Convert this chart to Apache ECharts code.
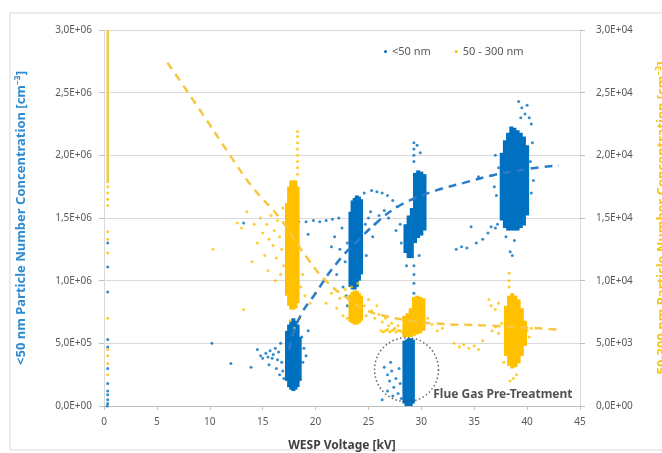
<!DOCTYPE html>
<html><head><meta charset="utf-8">
<script src="https://cdn.jsdelivr.net/npm/echarts@6/dist/echarts.min.js"></script>
<style>html,body{margin:0;padding:0;background:#fff}#c{width:662px;height:453px}</style>
</head><body><div id="c"></div>
<script>
const blueName = '<50 nm';
const yellowName = '50 - 300 nm';
const xTitle = 'WESP Voltage [kV]';
const leftTitle = '<50 nm Particle Number Concentration [cm\u207B\u00B3]';
const rightTitle = '50-300 nm Particle Number Concentration [cm\u207B\u00B3]';
const annotationText = 'Flue Gas Pre-Treatment';
const annotationPoint = [[28.6, 0.29e6]];

// dense data bands: [voltage, low, high]
const blueStrips = [
  [17.3,0.20e6,0.60e6],[17.5,0.15e6,0.65e6],[17.7,0.13e6,0.68e6],[17.9,0.12e6,0.70e6],[18.1,0.13e6,0.68e6],[18.3,0.15e6,0.65e6],[18.5,0.20e6,0.55e6],
  [23.3,0.95e6,1.55e6],[23.5,0.93e6,1.64e6],[23.7,0.93e6,1.66e6],[23.9,0.95e6,1.68e6],[24.1,1.00e6,1.67e6],[24.3,1.05e6,1.65e6],
  [28.5,1.22e6,1.45e6],[28.8,1.18e6,1.52e6],[29.1,1.18e6,1.58e6],[29.4,1.30e6,1.86e6],[29.7,1.34e6,1.88e6],[30.0,1.36e6,1.87e6],[30.3,1.40e6,1.85e6],
  [28.4,0.02e6,0.52e6],[28.6,0.00e6,0.53e6],[28.8,0.00e6,0.54e6],[29.0,0.00e6,0.54e6],[29.2,0.02e6,0.53e6],
  [37.6,1.48e6,2.02e6],[37.9,1.42e6,2.12e6],[38.2,1.40e6,2.18e6],[38.5,1.40e6,2.23e6],[38.8,1.40e6,2.22e6],[39.1,1.40e6,2.20e6],[39.4,1.42e6,2.18e6],[39.7,1.44e6,2.15e6],[40.0,1.52e6,2.08e6]
];
const yellowStrips = [
  [17.3,0.88e4,1.62e4],[17.5,0.80e4,1.75e4],[17.7,0.77e4,1.80e4],[17.9,0.77e4,1.80e4],[18.1,0.78e4,1.80e4],[18.3,0.82e4,1.75e4],
  [23.3,0.67e4,0.89e4],[23.5,0.66e4,0.91e4],[23.7,0.65e4,0.92e4],[23.9,0.65e4,0.92e4],[24.1,0.66e4,0.90e4],[24.3,0.68e4,0.88e4],
  [28.4,0.55e4,0.72e4],[28.7,0.55e4,0.74e4],[29.0,0.55e4,0.78e4],[29.3,0.56e4,0.87e4],[29.6,0.57e4,0.88e4],[29.9,0.58e4,0.87e4],[30.2,0.60e4,0.86e4],
  [38.0,0.40e4,0.80e4],[38.3,0.32e4,0.88e4],[38.6,0.30e4,0.90e4],[38.9,0.31e4,0.88e4],[39.2,0.34e4,0.85e4],[39.5,0.40e4,0.78e4],[39.8,0.48e4,0.68e4]
];
// the near-vertical run at 0 kV
const yellowZeroStrip = [[0.35,1.78e4,3.0e4]];

// individual scattered points: [voltage, concentration]
const blueDots = [
  [0.35,1.30e6],[0.35,1.11e6],[0.35,0.91e6],[0.35,0.53e6],[0.35,0.47e6],[0.35,0.30e6],[0.35,0.18e6],[0.35,0.12e6],[0.35,0.09e6],[0.35,0.05e6],[0.35,0.02e6],[0.3,0.0],
  [10.2,0.50e6],[12.0,0.34e6],[13.9,0.31e6],[14.5,0.45e6],[14.8,0.40e6],[15.0,0.38e6],[15.3,0.42e6],[15.5,0.39e6],[15.7,0.44e6],[15.9,0.38e6],[16.0,0.41e6],[16.2,0.46e6],
  [16.4,0.37e6],[16.5,0.43e6],[16.7,0.50e6],[16.8,0.35e6],[16.9,0.28e6],[17.0,0.22e6],[16.6,0.25e6],[16.3,0.30e6],[15.6,0.33e6],[18.7,0.55e6],[18.8,0.35e6],[18.9,0.46e6],
  [19.1,0.40e6],[19.3,0.60e6],[19.3,1.37e6],[19.1,1.47e6],[18.4,1.47e6],[13.2,1.46e6],
  [19.8,1.48e6],[20.4,1.47e6],[21.0,1.48e6],[21.6,1.49e6],[22.2,1.50e6],[21.5,1.27e6],
  [21.8,1.35e6],[22.0,1.05e6],[22.3,1.25e6],[22.5,1.42e6],[22.6,0.95e6],[22.8,1.15e6],[23.0,1.30e6],[22.9,0.88e6],[23.0,0.80e6],
  [24.7,1.45e6],[24.8,1.20e6],[25.0,1.50e6],[25.2,1.55e6],[24.6,1.70e6],[25.3,1.72e6],[25.8,1.71e6],[26.3,1.70e6],[26.8,1.68e6],[27.3,1.64e6],[27.7,1.59e6],
  [25.6,1.45e6],[26.0,1.52e6],[26.5,1.56e6],[25.4,1.35e6],[26.9,1.50e6],[27.6,1.40e6],[28.0,1.45e6],[28.1,1.30e6],
  [29.3,2.10e6],[29.3,2.05e6],[29.3,2.00e6],[29.3,1.95e6],[29.6,2.08e6],[29.9,2.02e6],[29.3,1.12e6],[29.3,1.05e6],[29.3,0.98e6],[29.3,0.90e6],
  [29.3,0.82e6],[29.3,0.74e6],[29.3,0.66e6],[29.3,0.58e6],[28.6,1.12e6],[29.8,1.20e6],
  [26.5,0.31e6],[26.8,0.25e6],[27.0,0.20e6],[27.2,0.28e6],[27.4,0.15e6],[27.6,0.22e6],[27.8,0.10e6],[28.0,0.18e6],[27.3,0.08e6],[26.8,0.12e6],[27.9,0.30e6],[28.1,0.06e6],[26.3,0.05e6],[27.1,0.35e6],
  [33.3,1.25e6],[33.8,1.27e6],[34.3,1.26e6],[34.7,1.43e6],[35.2,1.30e6],[35.8,1.33e6],[36.3,1.38e6],[36.6,1.43e6],[37.0,1.42e6],[37.2,1.45e6],
  [35.4,1.83e6],[36.7,1.84e6],[36.9,1.75e6],[37.1,1.68e6],[37.3,1.90e6],[37.0,2.00e6],[39.2,2.43e6],[39.5,2.38e6],[39.8,2.33e6],[40.2,2.30e6],[39.4,2.30e6],
  [40.0,2.40e6],[40.4,2.25e6],[40.5,2.10e6],[40.3,1.95e6],[40.6,1.80e6],[40.4,1.70e6],[38.6,1.20e6],[38.8,1.32e6],[38.0,1.35e6],[38.4,1.23e6]
];
const yellowDots = [
  [0.35,1.75e4],[0.35,1.70e4],[0.35,1.65e4],[0.35,1.60e4],[0.35,1.39e4],[0.35,1.33e4],[0.35,1.22e4],[0.35,0.70e4],[0.35,0.45e4],[0.35,0.40e4],[0.35,0.34e4],[0.35,0.25e4],
  [10.3,1.25e4],[12.6,1.46e4],[13.0,1.42e4],[13.5,1.55e4],[14.2,1.45e4],[14.5,1.30e4],[14.8,1.50e4],[15.0,1.38e4],[15.2,1.20e4],[15.4,1.45e4],[15.6,1.33e4],[15.8,1.52e4],
  [16.0,1.28e4],[16.1,1.40e4],[16.3,1.18e4],[16.4,1.48e4],[16.6,1.35e4],[16.7,1.05e4],[16.8,1.25e4],[16.9,1.58e4],[17.0,1.12e4],[16.2,1.00e4],[15.5,1.08e4],[14.0,1.15e4],[13.2,0.77e4],
  [18.3,1.85e4],[18.3,1.90e4],[18.3,1.95e4],[18.3,2.00e4],[18.3,2.05e4],[18.3,2.10e4],[18.3,2.15e4],[18.3,2.19e4],
  [18.6,0.95e4],[18.8,1.05e4],[19.0,0.88e4],[18.5,0.70e4],[17.6,0.68e4],[18.0,0.62e4],[19.5,0.82e4],[20.0,0.90e4],
  [21.0,0.82e4],[21.5,0.90e4],[22.0,0.78e4],[22.3,0.86e4],[22.6,0.72e4],[22.8,0.93e4],[23.0,0.70e4],[24.6,0.80e4],[24.8,0.72e4],[25.0,0.85e4],[25.3,0.76e4],
  [25.6,0.70e4],[25.8,0.80e4],[26.0,0.73e4],[26.3,0.67e4],[26.6,0.70e4],[26.9,0.64e4],[27.2,0.66e4],[27.5,0.62e4],[27.8,0.64e4],[23.4,0.95e4],[24.0,0.98e4],
  [26.2,0.60e4],[26.4,0.59e4],[26.6,0.60e4],[26.8,0.61e4],[27.0,0.59e4],[27.2,0.60e4],[27.4,0.61e4],[27.6,0.59e4],[27.8,0.60e4],[28.0,0.60e4],[28.2,0.59e4],
  [30.6,0.70e4],[31.0,0.65e4],[31.5,0.60e4],[32.0,0.62e4],[33.1,0.50e4],[33.6,0.47e4],[34.0,0.49e4],[34.5,0.46e4],[35.0,0.48e4],[35.4,0.45e4],[35.8,0.52e4],
  [36.4,0.85e4],[36.6,0.80e4],[37.0,0.77e4],[37.3,0.82e4],[36.7,0.60e4],[37.0,0.63e4],[37.3,0.58e4],[37.6,0.66e4],[38.3,1.06e4],[38.3,1.00e4],[38.3,0.95e4],
  [40.0,0.60e4],[40.2,0.55e4],[40.4,0.62e4],[39.0,0.25e4],[38.7,0.22e4],[38.4,0.20e4],[37.8,0.35e4]
];

// trend lines
const blueTrend = [[17.5,0.45e6],[18.4,0.69e6],[20,0.90e6],[22.1,1.15e6],[24,1.32e6],[26,1.48e6],[27.4,1.57e6],[28.9,1.64e6],[31.4,1.72e6],[34,1.78e6],[36.7,1.84e6],[40,1.89e6],[43,1.92e6]];
const yellowTrend = [[6,2.74e4],[9,2.37e4],[12,1.99e4],[14,1.75e4],[16.7,1.49e4],[19.3,1.17e4],[21.2,0.98e4],[23,0.86e4],[24.6,0.77e4],[26.5,0.72e4],[28.3,0.69e4],[31,0.66e4],[36.6,0.64e4],[43,0.61e4]];

const BLUE = '#0070C0', YELLOW = '#FFC000';

function fmtE(v) {
  if (v === 0) return '0,0E+00';
  const e = Math.floor(Math.log10(v) + 1e-9);
  const m = v / Math.pow(10, e);
  return m.toFixed(1).replace('.', ',') + 'E+' + String(e).padStart(2, '0');
}
function stripRender(color, w) {
  return function (params, api) {
    const x = api.value(0);
    const lo = api.coord([x, api.value(1)]);
    const hi = api.coord([x, api.value(2)]);
    return { type: 'rect', shape: { x: lo[0] - w / 2, y: hi[1], width: w, height: lo[1] - hi[1] }, style: { fill: color } };
  };
}

const chart = echarts.init(document.getElementById('c'), null, { renderer: 'canvas' });
const labelStyle = { color: '#595959', fontSize: 10, fontFamily: 'Noto Sans' };
chart.setOption({
  animation: false,
  backgroundColor: '#fff',
  graphic: [{ type: 'rect', shape: { x: 10, y: 13, width: 670, height: 437 }, style: { fill: 'none', stroke: '#d9d9d9', lineWidth: 1 }, z: -1 }],
  grid: { left: 104, right: 82, top: 30, bottom: 47, containLabel: false, outerBoundsMode: 'none' },
  legend: {
    left: 379, top: 41, itemWidth: 3, itemHeight: 3, itemGap: 24, icon: 'circle',
    textStyle: { color: '#595959', fontSize: 11, fontFamily: 'Noto Sans' },
    data: [blueName, yellowName]
  },
  xAxis: {
    type: 'value', min: 0, max: 45, interval: 5,
    name: xTitle, nameLocation: 'middle', nameGap: 34,
    nameTextStyle: { color: '#404040', fontSize: 12, fontWeight: 'bold', fontFamily: 'Noto Sans' },
    axisLine: { show: true, lineStyle: { color: '#bfbfbf' } },
    axisTick: { show: true, length: 4, lineStyle: { color: '#bfbfbf' } },
    axisLabel: Object.assign({ margin: 11 }, labelStyle),
    splitLine: { show: false }
  },
  yAxis: [{
    type: 'value', min: 0, max: 3e6, interval: 0.5e6, position: 'left',
    name: leftTitle, nameLocation: 'middle', nameGap: 76, nameRotate: 90,
    nameTextStyle: { color: '#2E8BD0', fontSize: 13, fontWeight: 'bold', fontFamily: 'Noto Sans' },
    axisLine: { show: true, lineStyle: { color: '#d9d9d9' } },
    axisTick: { show: true, length: 5, lineStyle: { color: '#bfbfbf' } },
    axisLabel: Object.assign({ margin: 12, formatter: fmtE }, labelStyle),
    splitLine: { lineStyle: { color: '#d9d9d9' } }
  }, {
    type: 'value', min: 0, max: 3e4, interval: 0.5e4, position: 'right',
    name: rightTitle, nameLocation: 'middle', nameGap: 76, nameRotate: 90,
    nameTextStyle: { color: '#F5C518', fontSize: 13, fontWeight: 'bold', fontFamily: 'Noto Sans' },
    axisLine: { show: true, lineStyle: { color: '#d9d9d9' } },
    axisTick: { show: true, length: 5, lineStyle: { color: '#bfbfbf' } },
    axisLabel: Object.assign({ margin: 16, formatter: fmtE }, labelStyle),
    splitLine: { show: false }
  }],
  series: [
    { name: blueName, type: 'custom', renderItem: stripRender(BLUE, 4), data: blueStrips, encode: { x: 0, y: [1, 2] }, yAxisIndex: 0, itemStyle: { color: BLUE }, z: 2 },
    { name: blueName, type: 'scatter', data: blueDots, symbolSize: 3, yAxisIndex: 0, itemStyle: { color: BLUE }, z: 2 },
    { name: yellowName, type: 'custom', renderItem: stripRender(YELLOW, 4), data: yellowStrips, encode: { x: 0, y: [1, 2] }, yAxisIndex: 1, itemStyle: { color: YELLOW }, z: 3 },
    { name: yellowName, type: 'custom', renderItem: stripRender('#EFCF3C', 2.5), data: yellowZeroStrip, encode: { x: 0, y: [1, 2] }, yAxisIndex: 1, itemStyle: { color: YELLOW }, z: 3 },
    { name: yellowName, type: 'scatter', data: yellowDots, symbolSize: 3, yAxisIndex: 1, itemStyle: { color: YELLOW }, z: 3 },
    { name: 'blueTrend', type: 'line', data: blueTrend, smooth: true, showSymbol: false, yAxisIndex: 0,
      lineStyle: { color: '#2A7CC8', width: 2.5, type: [8, 6] }, z: 5 },
    { name: 'yellowTrend', type: 'line', data: yellowTrend, smooth: true, showSymbol: false, yAxisIndex: 1,
      lineStyle: { color: '#F5C842', width: 2.5, type: [8, 6] }, z: 5 },
    { name: 'annotation', type: 'scatter', data: annotationPoint, yAxisIndex: 0, symbol: 'circle', symbolSize: 64,
      itemStyle: { color: 'rgba(0,0,0,0)', borderColor: '#404040', borderWidth: 1.5, borderType: [1.5, 2.5] },
      label: { show: true, position: 'right', distance: 0, offset: [-6, 25], formatter: annotationText,
        color: '#262626', fontSize: 12, fontWeight: 'bold', fontFamily: 'Noto Sans' }, z: 6 }
  ]
});
</script></body></html>
